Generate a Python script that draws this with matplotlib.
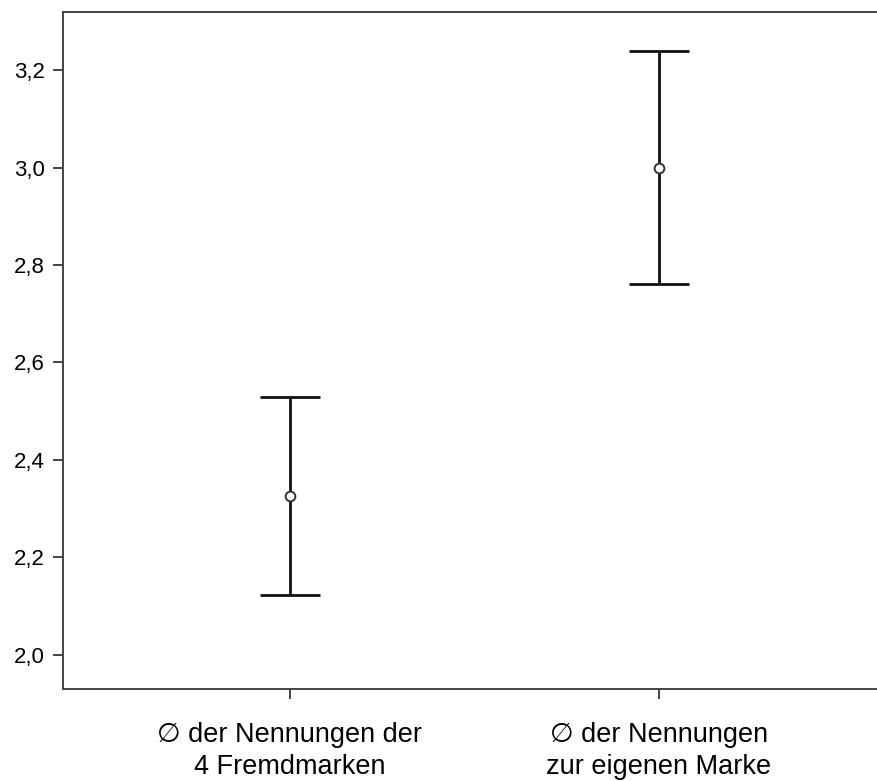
import numpy as np
import matplotlib.pyplot as plt

plt.rcParams['font.family'] = ['Liberation Sans', 'DejaVu Sans']

categories = ["\u2205 der Nennungen der\n4 Fremdmarken", "\u2205 der Nennungen\nzur eigenen Marke"]
means = [2.327, 3.000]
lower = [2.123, 2.760]
upper = [2.530, 3.239]
yticks = [2.0, 2.2, 2.4, 2.6, 2.8, 3.0, 3.2]
ytick_labels = ["2,0", "2,2", "2,4", "2,6", "2,8", "3,0", "3,2"]

x = np.arange(1, len(categories) + 1)
means = np.array(means)
err = [means - np.array(lower), np.array(upper) - means]

fig = plt.figure(figsize=(8.77, 7.81), dpi=100)
ax = fig.add_axes([0.0718, 0.1178, 0.9282, 0.8668])

ax.errorbar(x, means, yerr=err, fmt='none', ecolor='#111111', elinewidth=2.0,
            capsize=21.5, capthick=2.0)
ax.plot(x, means, 'o', ms=7, mfc='white', mec='#333333', mew=1.4, zorder=3)

ax.set_xlim(0.385, 2.591)
ax.set_ylim(1.930, 3.319)
ax.set_yticks(yticks)
ax.set_yticklabels(ytick_labels)
ax.set_xticks(x)
ax.set_xticklabels(categories, fontsize=19.5, linespacing=1.3)

for s in ['left', 'top', 'bottom']:
    ax.spines[s].set_color('#444444')
    ax.spines[s].set_linewidth(1.4)
ax.spines['right'].set_visible(False)
ax.tick_params(axis='y', direction='out', length=7, width=1.4, color='#444444',
               labelsize=16, pad=6)
ax.tick_params(axis='x', direction='out', length=7, width=1.4, color='#444444',
               pad=17)

fig.savefig('out.png', dpi=100)
